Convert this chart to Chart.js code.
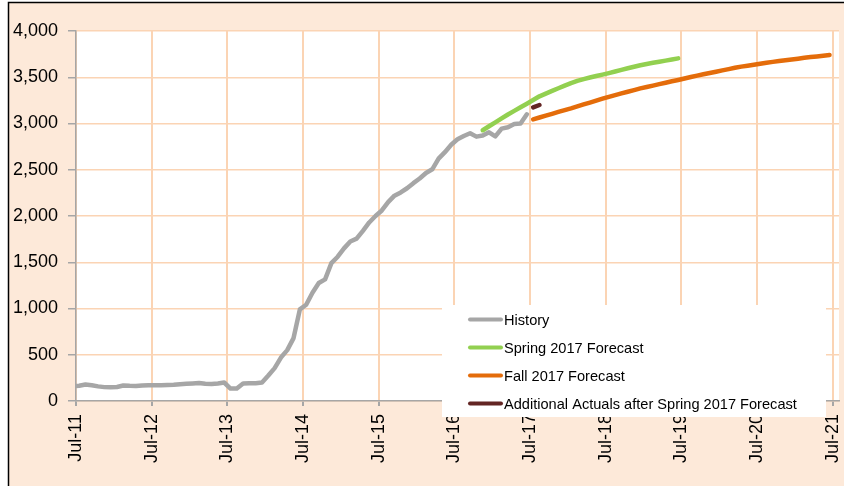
<!DOCTYPE html>
<html>
<head>
<meta charset="utf-8">
<script src="https://cdn.jsdelivr.net/npm/chart.js@4.4.1/dist/chart.umd.min.js"></script>
<style>
  body { margin: 0; background: #fff; }
  #wrap { width: 844px; height: 486px; }
</style>
</head>
<body>
<div id="wrap"><canvas id="line-chart"></canvas></div>
<script>
// months are counted from Jul-11 (= 0)
const tickMonths = [0, 12, 24, 36, 48, 60, 72, 84, 96, 108, 120];
const tickLabels = ['Jul-11', 'Jul-12', 'Jul-13', 'Jul-14', 'Jul-15', 'Jul-16', 'Jul-17', 'Jul-18', 'Jul-19', 'Jul-20', 'Jul-21'];

// History: Jun-11 .. Jun-17
const historyStart = -1;
const historyValues = [
  160, 165, 178, 170, 158, 150, 148, 152, 168, 164, 162, 168, 170,
  170, 170, 172, 175, 182, 186, 190, 195, 186, 184, 190, 200,
  135, 135, 190, 192, 192, 200, 275, 355, 470, 550, 680, 990,
  1040, 1170, 1275, 1315, 1490, 1560, 1650, 1725, 1755, 1840, 1930, 2000,
  2060, 2150, 2220, 2255, 2300, 2355, 2405, 2465, 2505, 2620, 2690, 2770,
  2830, 2865, 2895, 2858, 2870, 2905, 2860, 2945, 2960, 2995, 3000, 3100
];

// Spring 2017 Forecast: Nov-16 .. Jun-19
const springStart = 64;
const springValues = [
  2927, 2970, 3012, 3055, 3097, 3136, 3175, 3214, 3254, 3294, 3323, 3352,
  3381, 3410, 3437, 3460, 3480, 3497, 3513, 3529, 3545, 3562, 3580, 3597,
  3614, 3630, 3644, 3656, 3668, 3680, 3692, 3704
];

// Fall 2017 Forecast: Jul-17 .. Jun-21
const fallStart = 72;
const fallValues = [
  3045, 3065, 3085, 3105, 3125, 3145, 3164, 3185, 3206, 3226, 3247, 3268,
  3288, 3306, 3325, 3343, 3361, 3380, 3395, 3410, 3426, 3441, 3456, 3471,
  3487, 3502, 3517, 3532, 3546, 3560, 3574, 3588, 3602, 3615, 3625, 3635,
  3646, 3656, 3666, 3675, 3684, 3692, 3701, 3710, 3718, 3725, 3733, 3741
];

// Additional Actuals after Spring 2017 Forecast: Jul-17 .. Aug-17
const actualsStart = 72;
const actualsValues = [3175, 3200];

// points sit mid-month
const toPoints = (start, values) => values.map((v, i) => ({ x: start + i + 0.5, y: v }));

const peach = '#FDE9D9';
const gridColor = '#FBD4B4';
const axisColor = '#A6A6A6';
const fontFamily = '"Liberation Sans", Arial, sans-serif';

const backgroundPlugin = {
  id: 'background',
  beforeDraw(chart) {
    const { ctx, chartArea } = chart;
    ctx.save();
    ctx.fillStyle = '#fff';
    ctx.fillRect(0, 0, chart.width, chart.height);
    ctx.fillStyle = peach;
    ctx.fillRect(8, 2, chart.width, chart.height);
    ctx.fillStyle = '#fff';
    ctx.fillRect(chartArea.left, chartArea.top, chartArea.right - chartArea.left, chartArea.bottom - chartArea.top);
    ctx.strokeStyle = '#000';
    ctx.lineWidth = 1.5;
    ctx.beginPath();
    ctx.moveTo(8.5, chart.height);
    ctx.lineTo(8.5, 2.5);
    ctx.lineTo(chart.width, 2.5);
    ctx.stroke();
    ctx.restore();
  }
};

const legendPlugin = {
  id: 'boxLegend',
  afterDraw(chart) {
    const { ctx } = chart;
    ctx.save();
    ctx.fillStyle = '#fff';
    ctx.fillRect(442, 305, 384, 112);
    ctx.font = '14.6px ' + fontFamily;
    ctx.textBaseline = 'middle';
    chart.data.datasets.forEach((ds, i) => {
      const y = 319.5 + i * 28;
      ctx.strokeStyle = ds.borderColor;
      ctx.lineWidth = 4;
      ctx.lineCap = 'round';
      ctx.beginPath();
      ctx.moveTo(470, y);
      ctx.lineTo(501, y);
      ctx.stroke();
      ctx.fillStyle = '#000';
      ctx.fillText(ds.label, 504, y + 1);
    });
    ctx.restore();
  }
};

new Chart('line-chart', {
  type: 'line',
  data: {
    datasets: [
      {
        label: 'History',
        data: toPoints(historyStart, historyValues),
        borderColor: '#A6A6A6',
        order: 4
      },
      {
        label: 'Spring 2017 Forecast',
        data: toPoints(springStart, springValues),
        borderColor: '#92D050',
        order: 3
      },
      {
        label: 'Fall 2017 Forecast',
        data: toPoints(fallStart, fallValues),
        borderColor: '#E46C0A',
        order: 2
      },
      {
        label: 'Additional Actuals after Spring 2017 Forecast',
        data: toPoints(actualsStart, actualsValues),
        borderColor: '#632523',
        order: 1
      }
    ]
  },
  options: {
    responsive: true,
    maintainAspectRatio: false,
    animation: false,
    layout: { padding: { left: 8, top: 31, right: 5, bottom: 0 } },
    elements: {
      point: { radius: 0 },
      line: { borderWidth: 4.5, tension: 0, borderJoinStyle: 'round', borderCapStyle: 'round' }
    },
    plugins: {
      legend: { display: false },
      tooltip: { enabled: false }
    },
    scales: {
      x: {
        type: 'linear',
        min: 0,
        max: 121,
        afterBuildTicks: s => { s.ticks = tickMonths.map(v => ({ value: v })); },
        afterFit: s => { s.height = 85; s.paddingLeft = 0; s.paddingRight = 0; },
        grid: { color: gridColor, lineWidth: 2, tickColor: axisColor, tickLength: 5 },
        border: { color: axisColor, width: 1.5 },
        ticks: {
          autoSkip: false,
          minRotation: 90,
          maxRotation: 90,
          padding: 8,
          color: '#000',
          font: { family: fontFamily, size: 18 },
          callback: v => tickLabels[tickMonths.indexOf(v)]
        }
      },
      y: {
        min: 0,
        max: 4000,
        afterFit: s => { s.width = 68; },
        grid: { color: gridColor, lineWidth: 1.5, tickColor: axisColor, tickLength: 8 },
        border: { color: axisColor, width: 1.5 },
        ticks: {
          stepSize: 500,
          padding: 10,
          color: '#000',
          font: { family: fontFamily, size: 18 },
          callback: v => v.toLocaleString('en-US')
        }
      }
    }
  },
  plugins: [backgroundPlugin, legendPlugin]
});
</script>
</body>
</html>
